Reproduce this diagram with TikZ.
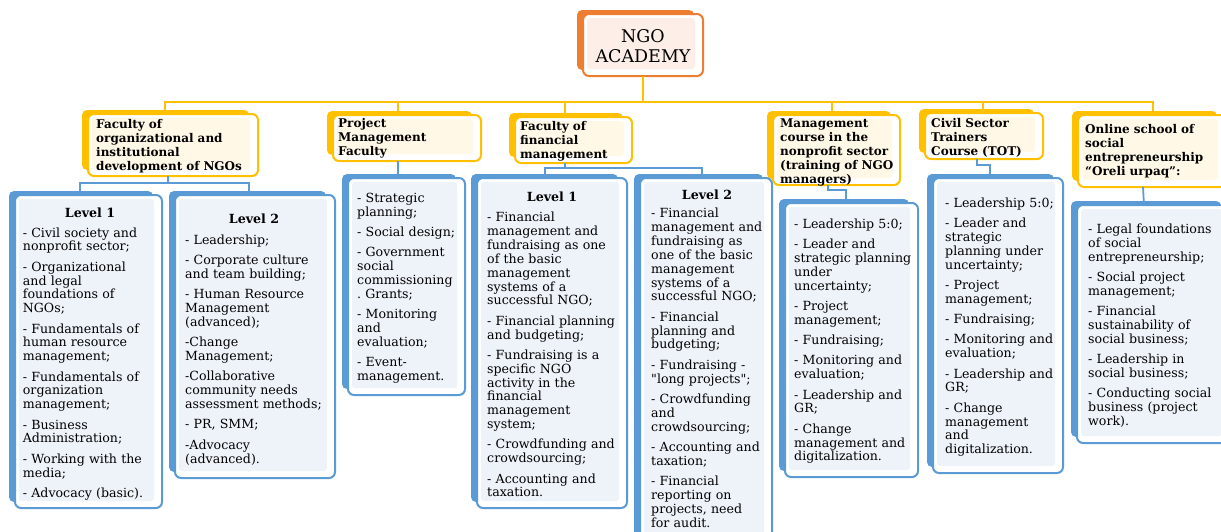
\documentclass[tikz,border=0pt]{standalone}
\usepackage{fontspec}
\setmainfont{DejaVu Serif}
\newfontfamily\plainserif{DejaVu Serif}
\frenchspacing
\definecolor{orng}{HTML}{ED7D31}
\definecolor{gold}{HTML}{FFC000}
\definecolor{blu}{HTML}{5B9BD5}
\definecolor{orngl}{HTML}{FDEFE7}
\definecolor{goldl}{HTML}{FFF8E6}
\definecolor{blul}{HTML}{EEF2F9}
% #1 x1, #2 y1, #3 x2, #4 y2, #5 colour, #6 light fill, #7 name
\newcommand\tribox[7]{%
  \fill[#5, rounded corners=5pt] ({#1-6},{#2-4}) rectangle ({#3-9},{#4-6});
  \node[draw=#5, line width=2pt, fill=white, rounded corners=6pt, inner sep=0pt, outer sep=0pt,
        anchor=north west, minimum width={(#3-#1)*1pt}, minimum height={(#4-#2)*1pt}] (#7) at (#1,#2) {};
  \fill[#6, rounded corners=3pt] ({#1+4},{#2+4}) rectangle ({#3-8},{#4-7});
}
\begin{document}
\begin{tikzpicture}[x=1pt,y=-1pt,
  ylw/.style={line width=2.2pt, draw=gold},
  bl/.style={line width=1.8pt, draw=blu},
  itm/.style={font=\fontsize{12.6}{13.9}\selectfont, align=left, text width=170pt, anchor=base west, inner sep=0pt},
  hdr/.style={font=\fontsize{12}{14.1}\selectfont\bfseries, align=left, text width=175pt, anchor=base west, inner sep=0pt},
  lvl/.style={font=\fontsize{12.6}{14}\selectfont\bfseries, anchor=base, inner sep=0pt},
]
\useasboundingbox (0,0) rectangle (1221,531);

% ---- boxes ----
\tribox{583}{14}{703}{76}{orng}{orngl}{ngo}
\tribox{88}{114}{258}{176}{gold}{goldl}{h1}
\tribox{333}{115}{481}{161}{gold}{goldl}{h2}
\tribox{515}{117}{632}{163}{gold}{goldl}{h3}
\tribox{773}{115}{900}{185}{gold}{goldl}{h4}
\tribox{925}{113}{1043}{159}{gold}{goldl}{h5}
\tribox{1078}{115}{1226}{187}{gold}{goldl}{h6}

\tribox{15}{195}{162}{508}{blu}{blul}{A}
\tribox{175}{195}{335}{478}{blu}{blul}{B}
\tribox{348}{178}{465}{395}{blu}{blul}{C}
\tribox{477}{178}{627}{508}{blu}{blul}{D}
\tribox{640}{178}{772}{545}{blu}{blul}{E}
\tribox{785}{203}{918}{477}{blu}{blul}{F}
\tribox{933}{178}{1063}{473}{blu}{blul}{G}
\tribox{1077}{205}{1230}{443}{blu}{blul}{H}

% ---- connectors ----
\coordinate (bus) at ([yshift=-26pt]ngo.south);
\draw[ylw] (ngo.south) -- (bus);
\draw[ylw] (bus) -| ([xshift=-8pt]h1.north);
\draw[ylw] (bus) -| ([xshift=-9pt]h2.north);
\draw[ylw] (bus) -| ([xshift=-8.5pt]h3.north);
\draw[ylw] (bus) -| ([xshift=-4.5pt]h4.north);
\draw[ylw] (bus) -| ([xshift=-1pt]h5.north);
\draw[ylw] (bus) -| ([xshift=1pt]h6.north);

\draw[bl] ([xshift=-5pt]h1.south) -- ++(0,7) coordinate (j1);
\draw[bl] (j1) -| ([xshift=-8.5pt]A.north);
\draw[bl] (j1) -| ([xshift=-6pt]B.north);
\draw[bl] ([xshift=-9pt]h2.south) -- ([xshift=-8.5pt]C.north);
\draw[bl] ([xshift=-8.5pt]h3.south) -- ++(0,5) coordinate (j3);
\draw[bl] (j3) -| ([xshift=-7pt]D.north);
\draw[bl] (j3) -| ([xshift=-4pt]E.north);
\draw[bl] ([xshift=-8.5pt]h4.south) -- ++(0,5) -| ([xshift=-5.5pt]F.north);
\draw[bl] ([xshift=-7pt]h5.south) -- ++(0,6) -| ([xshift=-8pt]G.north);
\draw[bl] ([xshift=-9pt]h6.south) -- ([xshift=-9.5pt]H.north);

% ---- texts ----
\node[font=\fontsize{17.5}{20}\selectfont, align=center, inner sep=0pt] (ngot) at (643,46) {NGO\\ACADEMY};

\node[hdr] (h1t) at (96,128.5) {Faculty of\\organizational and\\institutional\\development of NGOs};
\node[hdr] (h2t) at (338,127.5) {Project\\Management\\Faculty};
\node[hdr] (h3t) at (520,130.5) {Faculty of\\financial\\management};
\node[hdr] (h4t) at (780,127.5) {Management\\course in the\\nonprofit sector\\(training of NGO\\managers)};
\node[hdr] (h5t) at (931,127.5) {Civil Sector\\Trainers\\Course (TOT)};
\node[hdr] (h6t) at (1085,133.5) {Online school of\\social\\entrepreneurship\\“Oreli urpaq”:};

\node[lvl] (Al) at (90,217) {Level 1};
\node[itm] (At) at (22.7,237) {- Civil society and\\nonprofit sector;\\[6.3pt]
- Organizational\\and legal\\foundations of\\NGOs;\\[6.3pt]
- Fundamentals of\\human resource\\management;\\[6.3pt]
- Fundamentals of\\organization\\management;\\[6.3pt]
- Business\\Administration;\\[6.3pt]
- Working with the\\media;\\[6.3pt]
- Advocacy (basic).};

\node[lvl] (Bl) at (254,223.5) {Level 2};
\node[itm] (Bt) at (185,244.5) {- Leadership;\\[6.3pt]
- Corporate culture\\and team building;\\[6.3pt]
- Human Resource\\Management\\(advanced);\\[6.3pt]
-Change\\Management;\\[6.3pt]
-Collaborative\\community needs\\assessment methods;\\[6.3pt]
- PR, SMM;\\[6.3pt]
-Advocacy\\(advanced).};

\node[itm] (Ct) at (357,202.5) {- Strategic\\planning;\\[6.3pt]
- Social design;\\[6.3pt]
- Government\\social\\commissioning\\. Grants;\\[6.3pt]
- Monitoring\\and\\evaluation;\\[6.3pt]
- Event-\\management.};

\node[lvl] (Dl) at (552,201.5) {Level 1};
\node[itm] (Dt) at (487,221.5) {- Financial\\management and\\fundraising as one\\of the basic\\management\\systems of a\\successful NGO;\\[6.3pt]
- Financial planning\\and budgeting;\\[6.3pt]
- Fundraising is a\\specific NGO\\activity in the\\financial\\management\\system;\\[6.3pt]
- Crowdfunding and\\crowdsourcing;\\[6.3pt]
- Accounting and\\taxation.};

\node[lvl] (El) at (707,199.5) {Level 2};
\node[itm] (Et) at (651,217.5) {- Financial\\management and\\fundraising as\\one of the basic\\management\\systems of a\\successful NGO;\\[6.3pt]
- Financial\\planning and\\budgeting;\\[6.3pt]
- Fundraising -\\{\plainserif"}long projects{\plainserif"};\\[6.3pt]
- Crowdfunding\\and\\crowdsourcing;\\[6.3pt]
- Accounting and\\taxation;\\[6.3pt]
- Financial\\reporting on\\projects, need\\for audit.};

\node[itm] (Ft) at (794,228.5) {- Leadership 5:0;\\[6.3pt]
- Leader and\\strategic planning\\under\\uncertainty;\\[6.3pt]
- Project\\management;\\[6.3pt]
- Fundraising;\\[6.3pt]
- Monitoring and\\evaluation;\\[6.3pt]
- Leadership and\\GR;\\[6.3pt]
- Change\\management and\\digitalization.};

\node[itm] (Gt) at (945,207.5) {- Leadership 5:0;\\[6.3pt]
- Leader and\\strategic\\planning under\\uncertainty;\\[6.3pt]
- Project\\management;\\[6.3pt]
- Fundraising;\\[6.3pt]
- Monitoring and\\evaluation;\\[6.3pt]
- Leadership and\\GR;\\[6.3pt]
- Change\\management\\and\\digitalization.};

\node[itm] (Ht) at (1088,233.5) {- Legal foundations\\of social\\entrepreneurship;\\[6.3pt]
- Social project\\management;\\[6.3pt]
- Financial\\sustainability of\\social business;\\[6.3pt]
- Leadership in\\social business;\\[6.3pt]
- Conducting social\\business (project\\work).};
\end{tikzpicture}
\end{document}
